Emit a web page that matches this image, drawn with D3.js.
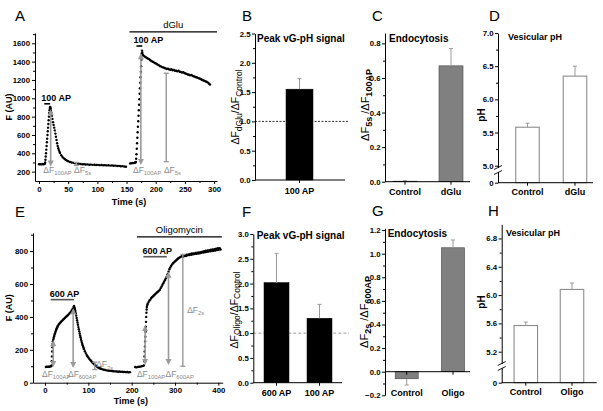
<!DOCTYPE html>
<html><head><meta charset="utf-8">
<script src="https://cdn.jsdelivr.net/npm/d3@7"></script>
<style>
body{margin:0;background:#fff}
svg{font-family:"Liberation Sans",Arial,sans-serif;display:block}
</style></head><body>
<svg id="c" width="603" height="411"></svg>
<script>
// ================= DATA =================
// Panel A traces: [time s, F AU]
const traceA1 = [[0,280],[2,282],[4,279],[6,283],[8,281],[10,285],[10.5,300],[11,330],[11.5,365],[12,400],[12.5,440],[13,480],[13.5,520],[14,560],[14.5,600],[15,640],[15.5,680],[16,720],[16.5,760],[17,800],[17.5,840],[18,870],[18.5,895],[19,905],[19.5,900],[20,885],[20.5,865],[21,845],[22,810],[23,775],[24,740],[25,710],[26,680],[27,650],[28,615],[29,580],[30,545],[31,510],[32,480],[33,455],[34,435],[35,418],[36,404],[38,380],[40,362],[42,348],[44,338],[46,328],[48,320],[50,314],[53,306],[56,300],[59,296],[62,292],[65,289],[68,286],[71,283],[74,281],[77,280],[80,278],[83,279],[86,276],[89,277],[92,274],[95,276],[98,273],[101,274],[104,271],[107,273],[110,270],[113,271],[116,268],[119,270],[122,266],[125,268],[128,264],[131,266],[134,262],[137,263],[140,259],[143,260],[146,256],[149,254]];
const traceA2 = [[156,290],[158,292],[160,295],[162,293],[164,298],[165,300],[166,305],[166.5,340],[167,390],[167.5,450],[168,510],[168.5,570],[169,630],[169.5,690],[170,750],[170.5,810],[171,870],[171.5,930],[172,990],[172.5,1050],[173,1110],[173.5,1170],[174,1230],[174.5,1290],[175,1350],[175.5,1420],[176,1490],[176.5,1520],[177,1500],[178,1475],[179,1465],[181,1455],[183,1448],[185,1440],[187,1432],[189,1425],[191,1415],[193,1405],[195,1398],[197,1392],[199,1383],[201,1378],[203,1368],[205,1362],[207,1352],[209,1348],[211,1340],[213,1336],[215,1330],[217,1326],[219,1320],[221,1322],[223,1315],[225,1311],[227,1318],[229,1305],[231,1310],[233,1300],[235,1302],[237,1295],[239,1300],[241,1290],[243,1286],[245,1280],[247,1285],[249,1275],[251,1271],[253,1266],[255,1260],[257,1256],[259,1250],[261,1255],[263,1245],[265,1240],[267,1236],[269,1230],[271,1226],[273,1220],[275,1216],[277,1210],[279,1202],[281,1196],[283,1192],[285,1185],[287,1180],[289,1174],[291,1162],[293,1150]];
// Panel E traces
const traceE1 = [[2,95],[4,97],[6,96],[8,98],[10,97],[12,99],[14,100],[15,105],[15.5,130],[16,160],[16.5,190],[17,215],[17.5,235],[18,250],[19,262],[20,272],[21,282],[22,292],[23,300],[24,308],[25,316],[26,323],[27,330],[28,336],[29,342],[30,347],[32,355],[34,362],[36,368],[38,374],[40,379],[42,384],[44,389],[46,394],[48,399],[50,404],[52,409],[54,414],[56,420],[58,426],[60,432],[62,440],[64,450],[66,460],[67,466],[68,458],[69,448],[70,436],[71,422],[72,408],[73,394],[74,380],[75,366],[76,352],[77,338],[78,325],[79,312],[80,299],[81,287],[82,276],[83,265],[84,255],[85,245],[86,236],[87,227],[88,219],[89,211],[90,204],[92,191],[94,180],[96,170],[98,161],[100,153],[102,146],[104,139],[106,133],[108,127],[110,121],[112,116],[114,111],[116,106],[118,102],[120,98],[122,94],[124,91],[126,88],[128,86],[130,84],[133,81],[136,79],[139,77],[142,75],[145,74],[148,73],[151,72],[154,71],[157,70],[160,69],[163,69],[166,68],[169,67],[172,68],[175,66],[178,67],[181,65],[184,66],[187,64],[190,65],[193,63],[196,64]];
const traceE2 = [[208,95],[211,93],[214,96],[217,97],[220,98],[223,100],[226,102],[228,105],[229,130],[229.5,160],[230,190],[230.5,220],[231,250],[231.5,280],[232,310],[232.5,340],[233,370],[233.5,400],[234,425],[234.5,445],[235,460],[236,472],[237,480],[239,490],[241,500],[243,505],[245,515],[247,520],[249,525],[251,530],[253,535],[255,540],[257,545],[259,550],[261,555],[263,560],[265,565],[267,575],[269,585],[271,595],[273,605],[275,615],[277,625],[279,635],[281,645],[283,660],[285,675],[287,690],[289,700],[291,710],[293,718],[295,725],[297,730],[299,735],[301,740],[303,745],[305,750],[307,755],[309,758],[311,762],[313,765],[315,768],[317,770],[319,765],[321,772],[323,775],[325,770],[327,778],[329,775],[331,780],[333,776],[335,782],[337,778],[339,785],[341,780],[343,786],[345,782],[347,788],[349,783],[351,790],[353,785],[355,792],[357,787],[359,794],[361,790],[363,797],[365,791],[367,799],[369,793],[371,802],[373,795],[375,804],[377,797],[379,806],[381,799],[383,808],[385,800],[387,810],[389,802],[391,812],[393,804],[395,815],[397,806],[399,817],[401,808],[403,818],[405,810]];

// stimulus windows [start, end, level, label]
const stimA = [[9,19,940,"100 AP"],[167,177,1570,"100 AP"]];
const drugA = [155,305,1725,"dGlu"];
const stimE = [[13,67,505,"600 AP"],[227,281,766,"600 AP"]];
const drugE = [212,408,887,"Oligomycin"];
// measurement arrows [t, low, high]
const arrowsA = [[20,255,880],[174.5,273,1490]];
const ibarsA = [[64,268,300],[218,309,1273]];
const arrowsE = [[19,95,258],[65,89,453],[231,108,350],[285,108,675]];
const ibarsE = [[115,80,125],[318,100,780]];
// ΔF annotation labels [t, value, subscript]
const labelsA = [[7.4,186,"100AP"],[60,186,"5s"],[161,186,"100AP"],[214,186,"5s"]];
const labelsE = [[-7,35,"100AP"],[53,35,"600AP"],[118,95,"2s"],[212,35,"100AP"],[278,35,"600AP"],[328,424,"2s"]];

const xTicksA=[0,50,100,150,200,250,300], yTicksA=[200,400,600,800,1000,1200,1400,1600];
const xTicksE=[0,100,200,300,400], yTicksE=[0,200,400,600,800];

// bar panels
const catsB=["100 AP"], valsB=[1.55], errsB=[1.73];
const catsC=["Control","dGlu"], valsC=[0.003,0.67], errsC=[0.006,0.77];
const catsD=["Control","dGlu"], valsD=[5.58,6.35], errsD=[5.64,6.5];
const catsF=["600 AP","100 AP"], valsF=[2.02,1.30], errsF=[2.61,1.58];
const catsG=["Control","Oligo"], valsG=[-0.06,1.05], errsG=[-0.113,1.116];
const catsH=["Control","Oligo"], valsH=[5.57,6.08], errsH=[5.62,6.17];
const ticksB=[0,0.5,1,1.5,2,2.5], ticksC=[0,0.2,0.4,0.6,0.8], ticksD=[0,5,5.5,6,6.5,7];
const ticksF=[0,0.5,1,1.5,2,2.5,3], ticksG=[-0.2,0,0.2,0.4,0.6,0.8,1.0,1.2], ticksH=[0,5.2,5.6,6.0,6.4,6.8];

// ================= DRAW =================
const svg=d3.select("#c");
const GRAY="#9a9a9a";

function rich(sel, parts, size, subSize, shift){
  let inSub=false;
  parts.forEach(([t,sub,weight])=>{
    const ts=sel.append("tspan").text(t).attr("font-size",sub?subSize:size);
    if(weight) ts.attr("font-weight",weight);
    if(sub && !inSub){ts.attr("dy",shift); inSub=true;}
    else if(!sub && inSub){ts.attr("dy",-shift); inSub=false;}
  });
}
function letter(x,y,t){svg.append("text").attr("x",x).attr("y",y).attr("font-size",15).text(t);}

function styleAxis(g){
  g.selectAll("path,line").attr("stroke","#000").attr("stroke-width",1);
  g.selectAll("text").attr("font-size",7.8).attr("font-weight","bold").attr("fill","#000").attr("font-family","Liberation Sans, Arial, sans-serif");
}
function minorAxis(g, axisFn, scale, vals){
  const a=g.append("g").call(axisFn(scale).tickValues(vals).tickSize(2).tickFormat(""));
  a.select(".domain").remove();
  a.selectAll("line").attr("stroke","#000");
}
function rangeStep(a,b,s){const r=[];for(let v=a;v<=b+1e-9;v+=s)r.push(+v.toFixed(4));return r;}

function drawArrow(g,x,y1,y2){ // y1 top px, y2 bottom px
  const h=6,w=3;
  g.append("line").attr("x1",x).attr("x2",x).attr("y1",y1+h-1).attr("y2",y2-h+1).attr("stroke",GRAY).attr("stroke-width",1.6);
  g.append("path").attr("d",`M${x},${y1}L${x-w},${y1+h}L${x+w},${y1+h}Z`).attr("fill",GRAY);
  g.append("path").attr("d",`M${x},${y2}L${x-w},${y2-h}L${x+w},${y2-h}Z`).attr("fill",GRAY);
}
function drawIbar(g,x,y1,y2){
  g.append("line").attr("x1",x).attr("x2",x).attr("y1",y1).attr("y2",y2).attr("stroke",GRAY).attr("stroke-width",1.4);
  [y1,y2].forEach(y=>g.append("line").attr("x1",x-2.5).attr("x2",x+2.5).attr("y1",y).attr("y2",y).attr("stroke",GRAY).attr("stroke-width",1.4));
}
function dfLabel(g,x,y,sub){
  const t=g.append("text").attr("x",x).attr("y",y).attr("fill","#8a8a8a");
  rich(t,[["\u0394F",false],[sub,true]],8.5,5.8,2.5);
}

function tracePanel(cfg){
  const g=svg.append("g");
  const sx=d3.scaleLinear().domain(cfg.xd).range(cfg.xr);
  const sy=d3.scaleLinear().domain(cfg.yd).range(cfg.yr);
  const ax=g.append("g").attr("transform",`translate(0,${cfg.yr[0]})`)
    .call(d3.axisBottom(sx).tickValues(cfg.xt).tickSize(3).tickSizeOuter(0).tickPadding(2).tickFormat(d3.format("d")));
  minorAxis(ax,d3.axisBottom,sx,cfg.xm);
  styleAxis(ax);
  const ay=g.append("g").attr("transform",`translate(${cfg.xr[0]},0)`)
    .call(d3.axisLeft(sy).tickValues(cfg.yt).tickSize(3).tickSizeOuter(0).tickPadding(2).tickFormat(d3.format("d")));
  minorAxis(ay,d3.axisLeft,sy,cfg.ym);
  styleAxis(ay);
  // traces
  cfg.traces.forEach(tr=>{
    g.append("g").selectAll("circle").data(tr).join("circle")
      .attr("cx",d=>sx(d[0])).attr("cy",d=>sy(d[1])).attr("r",1.2).attr("fill","#000");
  });
  // annotations
  cfg.arrows.forEach(a=>drawArrow(g,sx(a[0]),sy(a[2]),sy(a[1])));
  cfg.ibars.forEach(a=>drawIbar(g,sx(a[0]),sy(a[2]),sy(a[1])));
  cfg.labels.forEach(l=>dfLabel(g,sx(l[0]),sy(l[1]),l[2]));
  // stimulus bars
  cfg.stim.forEach(s=>{
    g.append("line").attr("x1",sx(s[0])).attr("x2",sx(s[1])).attr("y1",sy(s[2])).attr("y2",sy(s[2])).attr("stroke",cfg.stimColor).attr("stroke-width",1.6);
    g.append("text").attr("x",cfg.stimTextX(sx,s)).attr("y",sy(s[2])-3).attr("font-size",9).attr("font-weight","bold").text(s[3]);
  });
  const d=cfg.drug;
  g.append("line").attr("x1",sx(d[0])).attr("x2",sx(d[1])).attr("y1",sy(d[2])).attr("y2",sy(d[2])).attr("stroke","#000").attr("stroke-width",1.2);
  g.append("text").attr("x",(sx(d[0])+sx(d[1]))/2).attr("y",sy(d[2])-3.5).attr("text-anchor","middle").attr("font-size",9.5).text(d[3]);
  // axis titles
  g.append("text").attr("x",(cfg.xr[0]+cfg.xr[1])/2+3).attr("y",cfg.xtitleY).attr("text-anchor","middle").attr("font-size",9).attr("font-weight","bold").text("Time (s)");
  g.append("text").attr("transform",`translate(${cfg.ytitleX},${(cfg.yr[0]+cfg.yr[1])/2})rotate(-90)`).attr("text-anchor","middle").attr("font-size",9).attr("font-weight","bold").text("F (AU)");
}

tracePanel({xd:[-6.9,305],xr:[35,217],yd:[98,1712],yr:[181,33],
  xt:xTicksA,xm:rangeStep(25,300,50),yt:yTicksA,ym:rangeStep(300,1700,200),
  traces:[traceA1,traceA2],arrows:arrowsA,ibars:ibarsA,labels:labelsA,stim:stimA,drug:drugA,stimColor:"#000",
  stimTextX:(sx,s)=>sx(s[0])-3,xtitleY:205,ytitleX:12});
tracePanel({xd:[-27.7,410],xr:[33,222.7],yd:[0,910],yr:[382.7,233],
  xt:xTicksE,xm:rangeStep(50,400,100),yt:yTicksE,ym:rangeStep(100,900,200),
  traces:[traceE1,traceE2],arrows:arrowsE,ibars:ibarsE,labels:labelsE,stim:stimE,drug:drugE,stimColor:"#555",
  stimTextX:(sx,s)=>sx(s[0])-1,xtitleY:404,ytitleX:12});

function barPanel(c){
  const g=svg.append("g");
  const y=c.y;
  const x=d3.scalePoint().domain(c.cats).range(c.centers);
  const y0=y(0);
  // ref line
  if(c.ref){
    g.append("line").attr("x1",c.xl).attr("x2",c.ref.x2).attr("y1",y(1)).attr("y2",y(1))
      .attr("stroke",c.ref.color).attr("stroke-width",1).attr("stroke-dasharray",c.ref.dash);
  }
  // bars
  g.selectAll("rect.bar").data(c.cats).join("rect")
    .attr("x",d=>x(d)-c.bw/2).attr("width",c.bw)
    .attr("y",(d,i)=>Math.min(y(c.vals[i]),y0)).attr("height",(d,i)=>Math.abs(y(c.vals[i])-y0))
    .attr("fill",c.fill).attr("stroke",c.stroke).attr("stroke-width",c.sw);
  // error bars
  c.cats.forEach((d,i)=>{
    const cx=x(d), ya=y(c.vals[i]), yb=y(c.errs[i]);
    g.append("line").attr("x1",cx).attr("x2",cx).attr("y1",ya).attr("y2",yb).attr("stroke",c.errColor).attr("stroke-width",1);
    g.append("line").attr("x1",cx-2).attr("x2",cx+2).attr("y1",yb).attr("y2",yb).attr("stroke",c.errColor).attr("stroke-width",1);
  });
  // y axis
  const ay=g.append("g").attr("transform",`translate(${c.xl},0)`)
    .call(d3.axisLeft(y).tickValues(c.ticks).tickSize(3).tickSizeOuter(0).tickPadding(1.5).tickFormat(c.fmt));
  minorAxis(ay,d3.axisLeft,y,c.minor);
  styleAxis(ay);
  // x axis
  const xa=g.append("g");
  xa.append("line").attr("x1",c.xl).attr("x2",c.xr).attr("y1",y0).attr("y2",y0).attr("stroke","#000");
  c.cats.forEach(d=>{
    xa.append("line").attr("x1",x(d)).attr("x2",x(d)).attr("y1",y0).attr("y2",y0+3).attr("stroke","#000");
  });
  xa.selectAll("text").data(c.cats).join("text").attr("x",d=>x(d)).attr("y",c.catY)
    .attr("text-anchor","middle").attr("font-size",9).attr("font-weight","bold").text(d=>d);
  // break
  if(c.brk){
    const yb=c.brk;
    g.append("rect").attr("x",c.xl-3).attr("y",yb-2).attr("width",6).attr("height",4).attr("fill","#fff");
    [yb-2.5,yb+2.5].forEach(v=>g.append("line").attr("x1",c.xl-4).attr("x2",c.xl+4).attr("y1",v+2).attr("y2",v-2).attr("stroke","#000").attr("stroke-width",0.9));
  }
  // title
  g.append("text").attr("x",c.tx).attr("y",c.ty).attr("font-size",c.tsize).attr("font-weight","bold").text(c.title);
  // y label
  const t=g.append("text").attr("transform",`translate(${c.lx},${c.ly})rotate(-90)`).attr("text-anchor","middle");
  rich(t,c.label,c.lsize,c.lsub,2.8);
}
const f1=d3.format(".1f");
const phFmt=v=>v===0?"0":f1(v);

barPanel({cats:catsB,vals:valsB,errs:errsB,centers:[299.5,299.5],bw:27,
  y:d3.scaleLinear().domain([0,2.5]).range([180,33.5]),xl:255,xr:345,ticks:ticksB,minor:rangeStep(0.25,2.25,0.5),fmt:f1,
  fill:"#000",stroke:"#000",sw:0.5,errColor:GRAY,ref:{x2:348,color:"#333",dash:"2,1.5"},
  catY:194,title:"Peak vG-pH signal",tx:257,ty:41.5,tsize:10,
  label:[["\u0394F",false],["dGlu",true],["/\u0394F",false],["Control",true]],lx:239,ly:107,lsize:10.5,lsub:8.5});
barPanel({cats:catsC,vals:valsC,errs:errsC,centers:[405,451],bw:24,
  y:d3.scaleLinear().domain([0,0.86]).range([181.7,33]),xl:385,xr:470,ticks:ticksC,minor:rangeStep(0.1,0.8,0.2),fmt:f1,
  fill:"#808080",stroke:"#444",sw:0.6,errColor:GRAY,
  catY:195,title:"Endocytosis",tx:389,ty:42,tsize:10,
  label:[["\u0394F",false],["5s",true,"bold"],[" /\u0394F",false],["100AP",true,"bold"]],lx:369,ly:105,lsize:11,lsub:9});
barPanel({cats:catsD,vals:valsD,errs:errsD,centers:[527.5,575],bw:23.5,
  y:d3.scaleLinear().domain([0,4.89,7.0]).range([182.7,173,33]),xl:498,xr:593,ticks:ticksD,minor:rangeStep(5.25,6.75,0.5),fmt:phFmt,
  fill:"#fff",stroke:"#8c8c8c",sw:1.1,errColor:GRAY,brk:170,
  catY:195,title:"Vesicular pH",tx:508,ty:40,tsize:9,
  label:[["pH",false,"bold"]],lx:485,ly:115,lsize:10,lsub:8});
barPanel({cats:catsF,vals:valsF,errs:errsF,centers:[276.5,319.5],bw:25,
  y:d3.scaleLinear().domain([0,3.0]).range([382.7,234]),xl:253.3,xr:342,ticks:ticksF,minor:rangeStep(0.25,2.75,0.5),fmt:f1,
  fill:"#000",stroke:"#000",sw:0.5,errColor:GRAY,ref:{x2:349,color:"#999",dash:"3,2"},
  catY:396,title:"Peak vG-pH signal",tx:256.7,ty:239,tsize:10,
  label:[["\u0394F",false],["Oligo",true],["/\u0394F",false],["Control",true]],lx:237.5,ly:310,lsize:10.5,lsub:8.5});
barPanel({cats:catsG,vals:valsG,errs:errsG,centers:[406.7,453],bw:23,
  y:d3.scaleLinear().domain([-0.2,1.215]).range([395.3,228.3]),xl:385,xr:470,ticks:ticksG,minor:rangeStep(-0.1,1.1,0.2),fmt:f1,
  fill:"#808080",stroke:"#444",sw:0.6,errColor:GRAY,
  catY:396,title:"Endocytosis",tx:387.7,ty:237,tsize:10,
  label:[["\u0394F",false],["2s",true,"bold"],[" /\u0394F",false],["600AP",true,"bold"]],lx:368,ly:312,lsize:11,lsub:9});
barPanel({cats:catsH,vals:valsH,errs:errsH,centers:[525.8,572],bw:23.5,
  y:d3.scaleLinear().domain([0,4.97,7.0]).range([382.7,368,224.3]),xl:501.7,xr:596.7,ticks:ticksH,minor:rangeStep(5.4,6.8,0.4),fmt:phFmt,
  fill:"#fff",stroke:"#8c8c8c",sw:1.1,errColor:GRAY,brk:366,
  catY:395,title:"Vesicular pH",tx:506,ty:236,tsize:9,
  label:[["pH",false,"bold"]],lx:485,ly:302,lsize:10,lsub:8});

letter(15,20.5,"A");letter(242,20.5,"B");letter(372,20.5,"C");letter(489,20.5,"D");
letter(15,217,"E");letter(242,217,"F");letter(372,216,"G");letter(488,216,"H");
</script>
</body></html>
